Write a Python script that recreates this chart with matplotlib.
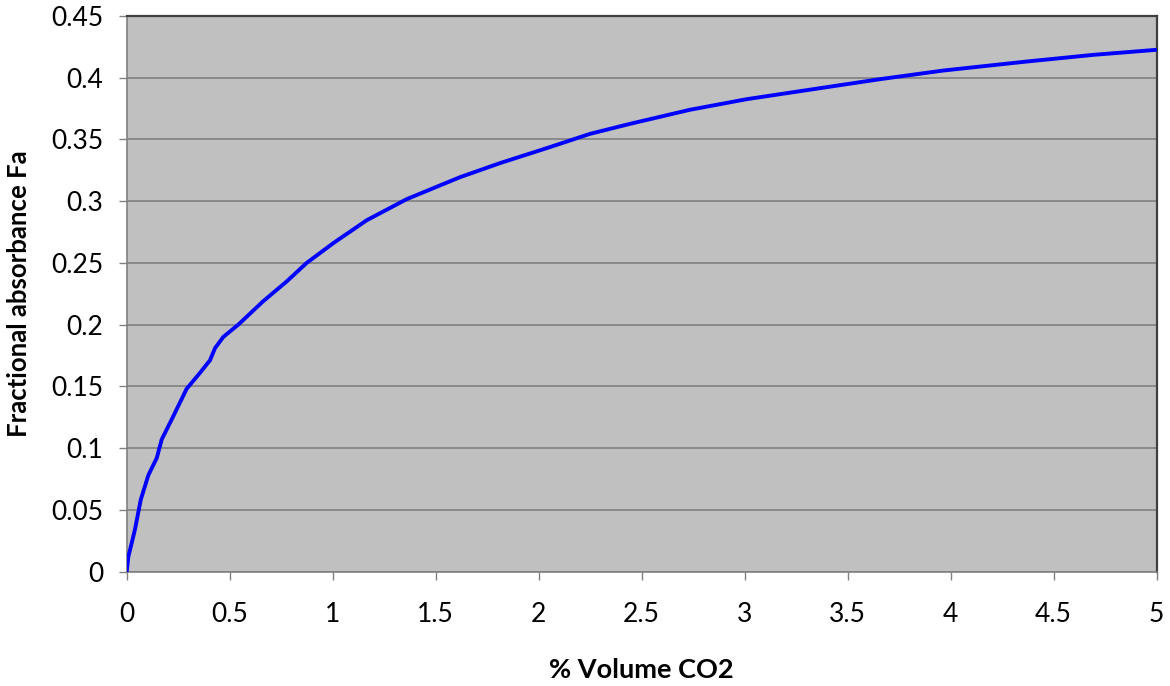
import matplotlib
matplotlib.use("Agg")
import matplotlib.pyplot as plt

plt.rcParams['font.family'] = ['Lato', 'DejaVu Sans']

volume_co2 = [0, 0.008, 0.04, 0.068, 0.105, 0.146, 0.17, 0.218, 0.291, 0.356, 0.404,
              0.429, 0.469, 0.542, 0.663, 0.777, 0.874, 1.003, 1.165, 1.359, 1.618,
              1.812, 2.055, 2.249, 2.443, 2.734, 3.01, 3.333, 3.657, 3.964, 4.369,
              4.692, 5.0]
fractional_absorbance = [0, 0.012, 0.034, 0.058, 0.078, 0.092, 0.107, 0.123, 0.148,
                         0.161, 0.171, 0.181, 0.190, 0.200, 0.219, 0.235, 0.250, 0.266,
                         0.2845, 0.3016, 0.3194, 0.3308, 0.3438, 0.3545, 0.3626, 0.374,
                         0.3826, 0.3907, 0.3988, 0.4058, 0.4131, 0.4185, 0.4226]
x_ticks = [0, 0.5, 1, 1.5, 2, 2.5, 3, 3.5, 4, 4.5, 5]
x_tick_labels = ["0", "0.5", "1", "1.5", "2", "2.5", "3", "3.5", "4", "4.5", "5"]
y_ticks = [0, 0.05, 0.1, 0.15, 0.2, 0.25, 0.3, 0.35, 0.4, 0.45]
y_tick_labels = ["0", "0.05", "0.1", "0.15", "0.2", "0.25", "0.3", "0.35", "0.4", "0.45"]

fig = plt.figure(figsize=(11.7, 6.86), dpi=100)
ax = fig.add_axes([0.1083, 0.1669, 0.8802, 0.8098])
ax.set_facecolor('#C0C0C0')

ax.plot(volume_co2, fractional_absorbance, color='#0000FF', linewidth=2.8,
        solid_joinstyle='round', zorder=3)

ax.set_xlim(0, 5)
ax.set_ylim(0, 0.45)
ax.set_xticks(x_ticks)
ax.set_xticklabels(x_tick_labels)
ax.set_yticks(y_ticks)
ax.set_yticklabels(y_tick_labels)

ax.yaxis.grid(True, color='#808080', linewidth=1.2, zorder=1)
ax.set_axisbelow(True)

ax.tick_params(axis='x', direction='out', length=6, width=1, color='#808080',
               labelsize=19, pad=16, labelcolor='black')
ax.tick_params(axis='y', direction='out', length=6, width=1, color='#808080',
               labelsize=19, pad=11, labelcolor='black')

ax.spines['left'].set_color('#808080')
ax.spines['bottom'].set_color('#808080')
ax.spines['left'].set_linewidth(1.2)
ax.spines['bottom'].set_linewidth(1.2)
ax.spines['top'].set_color('#404040')
ax.spines['right'].set_color('#404040')
ax.spines['top'].set_linewidth(1.6)
ax.spines['right'].set_linewidth(1.6)

ax.set_xlabel('% Volume CO2', fontsize=19.5, fontweight='bold', va='center')
ax.set_ylabel('Fractional absorbance Fa', fontsize=18.5, fontweight='bold', va='center')
ax.xaxis.set_label_coords(0.5, -0.177)
ax.yaxis.set_label_coords(-0.1046, 0.5)

fig.savefig('out.png', dpi=100)
